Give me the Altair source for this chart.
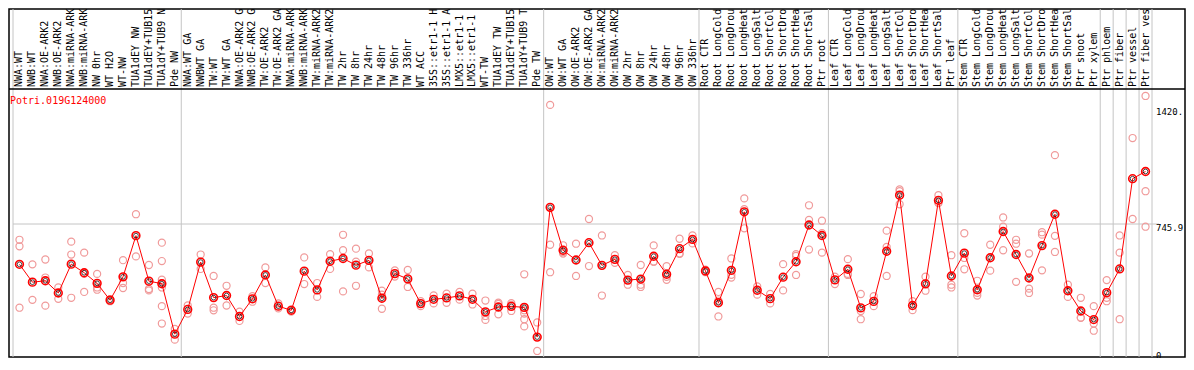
import altair as alt
import pandas as pd

gene = "Potri.019G124000"

categories = [
    "NWA:WT", "NWB:WT", "NWA:OE-ARK2", "NWB:OE-ARK2", "NWA:miRNA-ARK2", "NWB:miRNA-ARK2",
    "NW 0hr", "WT H2O", "WT-NW", "TUA1dEY NW", "TUA1dEY+TUB15 NW", "TUA1dY+TUB9 NW", "Pde NW",
    "NWA:WT GA", "NWBWT GA", "TW:WT", "TW:WT GA", "NWA:OE-ARK2 GA", "NWB:OE-ARK2 GA",
    "TW:OE-ARK2", "TW:OE-ARK2 GA", "NWA:miRNA-ARK2 GA", "NWB:miRNA-ARK2 GA", "TW:miRNA-ARK2",
    "TW:miRNA-ARK2 GA", "TW 2hr", "TW 8hr", "TW 24hr", "TW 48hr", "TW 96hr", "TW 336hr", "WT ACC",
    "35S::etr1-1 H2O", "35S::etr1-1 ACC", "LMX5::etr1-1 H2O", "LMX5::etr1-1 ACC", "WT-TW",
    "TUA1dEY TW", "TUA1dEY+TUB15 TW", "TUA1dY+TUB9 TW", "Pde TW",
    "OW:WT", "OW:WT GA", "OW:OE-ARK2", "OW:OE-ARK2 GA", "OW:miRNA-ARK2", "OW:miRNA-ARK2 GA",
    "OW 2hr", "OW 8hr", "OW 24hr", "OW 48hr", "OW 96hr", "OW 336hr",
    "Root CTR", "Root LongCold", "Root LongDrought", "Root LongHeat", "Root LongSalt",
    "Root ShortCold", "Root ShortDrought", "Root ShortHeat", "Root ShortSalt", "Ptr root",
    "Leaf CTR", "Leaf LongCold", "Leaf LongDrought", "Leaf LongHeat", "Leaf LongSalt",
    "Leaf ShortCold", "Leaf ShortDrought", "Leaf ShortHeat", "Leaf ShortSalt", "Ptr leaf",
    "Stem CTR", "Stem LongCold", "Stem LongDrought", "Stem LongHeat", "Stem LongSalt",
    "Stem ShortCold", "Stem ShortDrought", "Stem ShortHeat", "Stem ShortSalt",
    "Ptr shoot", "Ptr xylem", "Ptr phloem", "Ptr fiber", "Ptr vessel", "Ptr fiber vessel",
]

means = [
    511, 407, 415, 344, 512, 462, 400, 302, 438, 678, 413, 398, 104,
    248, 524, 317, 329, 207, 310, 449, 267, 243, 471, 362, 529, 545, 506, 534, 313,
    457, 426, 282, 307, 315, 327, 307, 234, 262, 266, 260, 87,
    843, 593, 536, 637, 505, 540, 419, 425, 558, 453, 602, 656,
    472, 287, 476, 817, 360, 311, 436, 526, 740, 679,
    420, 482, 257, 295, 587, 914, 271, 397, 884, 443,
    576, 363, 549, 702, 568, 431, 620, 803, 357,
    239, 189, 346, 484, 1010, 1052,
]

replicates = [
    [654, 616, 258], [511, 304], [539, 434, 270], [376, 310], [643, 568, 316],
    [579, 455, 350], [455, 376, 363], [308, 296], [535, 402, 373], [803, 557],
    [507, 367, 359], [637, 530, 421, 402, 376, 267, 166], [134, 72],
    [271, 224], [568, 484], [443, 258, 243], [386, 271], [235, 181], [325, 293],
    [493, 402], [283, 254], [248, 235], [551, 396], [402, 321], [570, 484],
    [683, 593, 353], [602, 526, 386], [574, 493], [357, 334, 252], [475, 440],
    [478, 379], [296, 267], [330, 283], [340, 287], [350, 305], [340, 277],
    [300, 210, 187], [287, 280, 220], [285, 275, 239],
    [453, 260, 243, 224, 191, 149], [172, 6],
    [1440, 625, 465], [622, 583, 574], [631, 443], [775, 501], [679, 329],
    [564, 520], [449, 392], [507, 392, 379], [621, 526, 527], [500, 421, 438],
    [660, 574, 572], [679, 656, 633],
    [480, 465], [350, 300, 207], [545, 450, 434], [895, 832, 721], [382, 334],
    [338, 283], [512, 359], [570, 560, 449], [855, 770, 597], [765, 692, 579],
    [439, 396], [541, 455, 449], [338, 239, 191], [325, 267], [707, 612, 443],
    [947, 937, 861], [296, 244], [439, 357], [914, 870, 868], [564, 392, 376],
    [692, 548, 482], [415, 345, 329], [625, 474], [784, 730, 593], [654, 631, 409],
    [574, 369, 344], [698, 684, 476], [1147, 677, 583], [392, 321],
    [316, 200, 199], [267, 166, 124], [419, 316, 296], [679, 579, 191],
    [1247, 775], [1492, 937, 730],
]

group_ends = [12, 40, 52, 62, 72, 83, 84, 85, 86, 87]
tick_values = [0, 745.9, 1420]
tick_labels = ["0", "745.9", "1420."]
grid_values = [745.9]

# ---- layout ----
W, H = 1176, 348
HEADER = 80
Y0 = 343
K = 0.1716
FONT = "DejaVu Sans Mono"

xscale = alt.Scale(domain=[-0.5, 87.5], range=[4, 1143], nice=False, zero=False)
yscale = alt.Scale(domain=[0, 1600], range=[Y0, Y0 - 1600 * K], nice=False, zero=False)

mean_df = pd.DataFrame({"idx": list(range(len(categories))), "name": categories, "value": means})
rep_rows = []
for i, reps in enumerate(replicates):
    for r in reps:
        rep_rows.append({"idx": i, "value": r})
rep_df = pd.DataFrame(rep_rows)
sep_df = pd.DataFrame({"b": [-0.5] + [e + 0.5 for e in group_ends]})
tick_df = pd.DataFrame({"v": tick_values, "label": tick_labels})
grid_df = pd.DataFrame({"v": grid_values})

X = alt.X("idx:Q", scale=xscale, axis=None)
Y = alt.Y("value:Q", scale=yscale, axis=None)

seps = alt.Chart(sep_df).mark_rule(color="#c4c4c4", strokeWidth=1).encode(
    x=alt.X("b:Q", scale=xscale, axis=None), y=alt.value(0), y2=alt.value(H)
)
header_rule = alt.Chart(pd.DataFrame({"a": [0]})).mark_rule(color="black", strokeWidth=1.5).encode(
    x=alt.value(0), x2=alt.value(W), y=alt.value(HEADER)
)
grid = alt.Chart(grid_df).mark_rule(color="#c4c4c4", strokeWidth=1).encode(
    y=alt.Y("v:Q", scale=yscale, axis=None), x=alt.value(4), x2=alt.value(1150)
)
header_labels = alt.Chart(mean_df).mark_text(
    angle=270, align="left", baseline="middle", font=FONT, fontSize=10, color="black", clip=True
).encode(x=X, y=alt.value(HEADER - 2), text="name:N")
title = alt.Chart(pd.DataFrame({"t": [gene]})).mark_text(
    align="left", baseline="middle", font=FONT, fontSize=10, color="#ff0000"
).encode(x=alt.value(1), y=alt.value(HEADER + 12), text="t:N")
rep_points = alt.Chart(rep_df).mark_point(
    shape="circle", size=50, filled=False, color="#f09a9a", strokeWidth=1.2, opacity=1
).encode(x=X, y=Y)
mean_line = alt.Chart(mean_df).mark_line(color="#ff0000", strokeWidth=1).encode(x=X, y=Y)
mean_points = alt.Chart(mean_df).mark_point(
    shape="circle", size=60, filled=False, color="#ff0000", strokeWidth=1.6, opacity=1
).encode(x=X, y=Y)
mean_inner = alt.Chart(mean_df).mark_point(
    shape="circle", size=22, filled=False, color="#000000", strokeWidth=0.7, opacity=1
).encode(x=X, y=Y)
tick_text = alt.Chart(tick_df).mark_text(
    align="left", baseline="top", font=FONT, fontSize=9, color="black"
).encode(x=alt.value(1147), y=alt.Y("v:Q", scale=yscale, axis=None), text="label:N")

chart = alt.layer(
    seps, grid, header_rule, header_labels, title, rep_points, mean_line, mean_points, mean_inner, tick_text
).properties(
    width=W, height=H, padding=1, autosize=alt.AutoSizeParams(type="none")
).configure_view(stroke="black", strokeWidth=1.5)

chart.save("out.html", embed_options={"renderer": "svg", "actions": False})
